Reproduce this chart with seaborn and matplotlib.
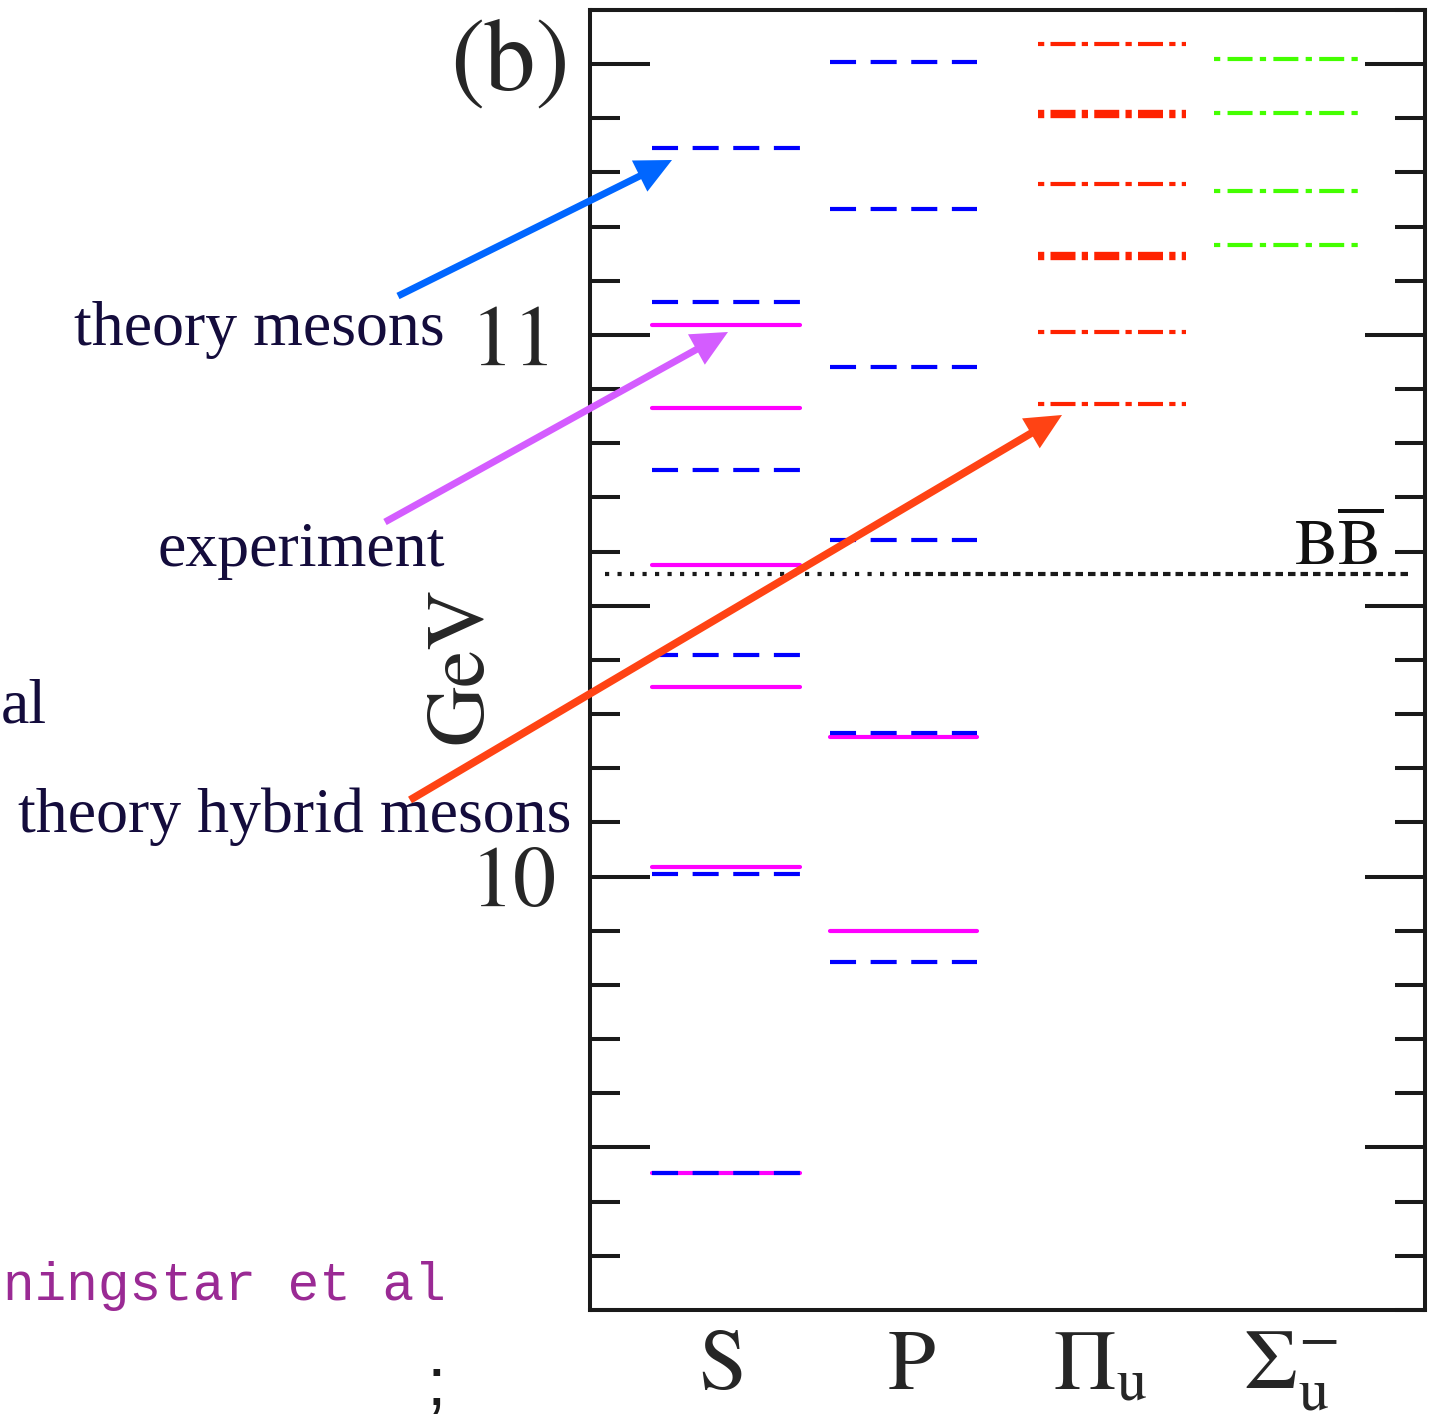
import numpy as np
import pandas as pd
import matplotlib
matplotlib.use("Agg")
import matplotlib.pyplot as plt
import seaborn as sns
from matplotlib.ticker import MultipleLocator, FixedLocator

# bottomonium levels (GeV)
columns = ['S', 'P', 'Pi_u', 'Sigma_u']
col_labels = ['S', 'P', r'$\Pi_{\mathrm{u}}$', r'$\Sigma_{\mathrm{u}}^{-}$']

s_expt = [9.452, 10.018, 10.351, 10.576, 10.865, 11.018]
s_theory = [9.452, 10.004, 10.410, 10.751, 11.061, 11.345]
p_expt = [9.899, 10.258]
p_theory = [9.843, 10.266, 10.622, 10.941, 11.232, 11.504]
pi_hybrid = [10.873, 11.006, 11.279, 11.537]
pi_hybrid_thick = [11.146, 11.408]
sigma_hybrid = [11.166, 11.266, 11.410, 11.509]
bb_threshold = 10.559

# layout
col_shift = {'S': 0.02, 'P': -0.04, 'Pi_u': 0.06, 'Sigma_u': -0.01}
half_w = 0.39

sets = [
    ('expt', 'S', s_expt), ('expt', 'P', p_expt),
    ('theory', 'S', s_theory), ('theory', 'P', p_theory),
    ('hybrid', 'Pi_u', pi_hybrid), ('hybrid_thick', 'Pi_u', pi_hybrid_thick),
    ('sigma', 'Sigma_u', sigma_hybrid),
]
rows = []
for kind, col, vals in sets:
    c = columns.index(col) + col_shift[col]
    for i, e in enumerate(vals):
        lvl = f'{kind}_{col}_{i}'
        rows.append(dict(x=c - half_w, E=e, kind=kind, lvl=lvl))
        rows.append(dict(x=c + half_w, E=e, kind=kind, lvl=lvl))
df = pd.DataFrame(rows)

order = ['expt', 'theory', 'hybrid', 'hybrid_thick', 'sigma']
pal = {'expt': '#ff00ff', 'theory': '#0000ff', 'hybrid': '#ff2200',
       'hybrid_thick': '#ff2200', 'sigma': '#44ff00'}
dash = {'expt': '', 'theory': (6.25, 3.5), 'hybrid': (1.5, 1.5, 6, 1.5),
        'hybrid_thick': (0.75, 0.75, 3, 0.75), 'sigma': (1.5, 1.75, 6, 1.75)}
lws = {'expt': 3.0, 'theory': 3.0, 'hybrid': 3.0, 'hybrid_thick': 6.0, 'sigma': 3.0}

sns.set_theme(style='ticks', rc={'axes.linewidth': 2.9})
plt.rcParams['font.family'] = ['STIXGeneral', 'DejaVu Serif']
plt.rcParams['mathtext.fontset'] = 'stix'

W, H = 1438, 1423
fig = plt.figure(figsize=(W / 100, H / 100), dpi=100)
ax = fig.add_axes([590 / W, 1 - 1310 / H, 835 / W, 1300 / H])

sns.lineplot(data=df, x='x', y='E', hue='kind', style='kind', size='kind',
             units='lvl', estimator=None, sort=False,
             hue_order=order, style_order=order, size_order=order,
             palette=pal, dashes=dash, sizes=lws, legend=False, ax=ax)

# B Bbar threshold
ax.axhline(bb_threshold, xmin=0.018, xmax=0.387, color='k', lw=3.0, ls=(0, (1, 2)))
ax.axhline(bb_threshold, xmin=0.387, xmax=0.982, color='k', lw=3.0, ls=(0, (1.8, 1.2)))
ax.text(0.950, 0.573, r'$\mathrm{B\overline{B}}$', transform=ax.transAxes,
        ha='right', va='baseline', fontsize=47, color='#111111')

ax.set_xlim(-0.697, 3.714)
ax.set_ylim(9.2, 11.6)
ax.set_xticks(range(len(columns)))
ax.set_xticklabels(col_labels, fontsize=62)
ax.tick_params(axis='x', length=0, pad=14)
ax.yaxis.set_major_locator(FixedLocator([9.5, 10, 10.5, 11, 11.5]))
ax.set_yticklabels(['', '10', '', '11', ''], fontsize=62)
ax.yaxis.set_minor_locator(MultipleLocator(0.1))
ax.tick_params(axis='y', which='both', direction='in', left=True, right=True,
               width=2.9, color='k')
ax.tick_params(axis='y', which='major', length=43, pad=24)
ax.tick_params(axis='y', which='minor', length=21.6)
ax.set_xlabel('')
ax.set_ylabel('GeV', fontsize=60)
ax.yaxis.set_label_coords(-0.108, 0.496)
for s in ax.spines.values():
    s.set_color('k')

fig.text(570 / W, 1 - 65 / H, '(b)', ha='right', va='center', fontsize=74)

# slide annotations around the chart
navy = '#140c3c'
serif = ['Liberation Serif', 'DejaVu Serif']
fig.text(445 / W, 1 - 345 / H, 'theory mesons', ha='right', va='baseline',
         fontsize=46, color=navy, family=serif)
fig.text(445 / W, 1 - 566 / H, 'experiment', ha='right', va='baseline',
         fontsize=46, color=navy, family=serif)
fig.text(18 / W, 1 - 832 / H, 'theory hybrid mesons', ha='left', va='baseline',
         fontsize=46, color=navy, family=serif)
fig.text(1 / W, 1 - 722 / H, 'al', ha='left', va='baseline',
         fontsize=46, color=navy, family=serif)
fig.text(3 / W, 1 - 1300 / H, 'ningstar et al', ha='left', va='baseline',
         fontsize=38, color='#9a2a94', family=['Liberation Mono', 'DejaVu Sans Mono'])
fig.text(436 / W, 1 - 1405 / H, ';', ha='center', va='baseline',
         fontsize=50, color='k', family=['Liberation Sans', 'DejaVu Sans'])

arrows = [
    ((398, 296), (672, 160), '#0066ff', 5.0),
    ((385, 522), (728, 332), '#d45cff', 5.0),
    ((410, 800), (1062, 415), '#ff4314', 5.5),
]
for (x0, y0), (x1, y1), col, w in arrows:
    ax.annotate('', xy=(x1, H - y1), xycoords='figure pixels',
                xytext=(x0, H - y0), textcoords='figure pixels',
                arrowprops=dict(width=w, headwidth=25, headlength=26,
                                shrink=0, color=col, lw=0),
                annotation_clip=False, zorder=10)

fig.savefig('out.png', dpi=100)
